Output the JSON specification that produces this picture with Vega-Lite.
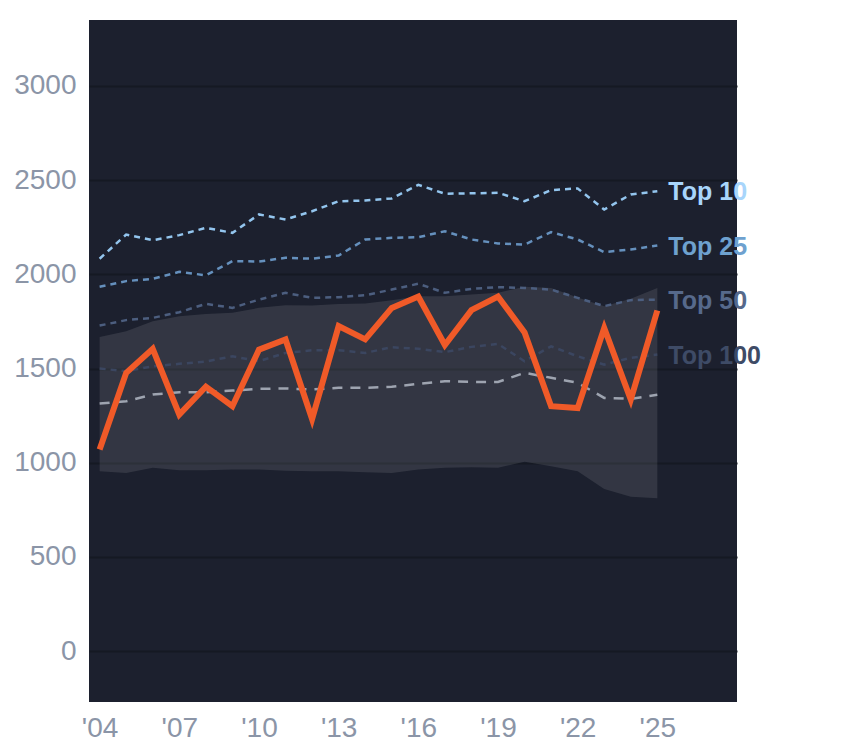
{
  "$schema": "https://vega.github.io/schema/vega-lite/v6.json",
  "width": 648,
  "height": 682,
  "padding": {"left": 5, "top": 20, "right": 0, "bottom": 0},
  "background": "#ffffff",
  "config": {
    "view": {"fill": "#1c202e", "stroke": null},
    "font": "Liberation Sans"
  },
  "datasets": {
    "main": [
      {"year": 2004, "value": 1070}, {"year": 2005, "value": 1477}, {"year": 2006, "value": 1605},
      {"year": 2007, "value": 1256}, {"year": 2008, "value": 1404}, {"year": 2009, "value": 1300},
      {"year": 2010, "value": 1600}, {"year": 2011, "value": 1654}, {"year": 2012, "value": 1232},
      {"year": 2013, "value": 1725}, {"year": 2014, "value": 1655}, {"year": 2015, "value": 1822},
      {"year": 2016, "value": 1882}, {"year": 2017, "value": 1625}, {"year": 2018, "value": 1810},
      {"year": 2019, "value": 1882}, {"year": 2020, "value": 1692}, {"year": 2021, "value": 1300},
      {"year": 2022, "value": 1290}, {"year": 2023, "value": 1715}, {"year": 2024, "value": 1335},
      {"year": 2025, "value": 1808}
    ],
    "median": [
      {"year": 2004, "value": 1314}, {"year": 2005, "value": 1326}, {"year": 2006, "value": 1362},
      {"year": 2007, "value": 1374}, {"year": 2008, "value": 1374}, {"year": 2009, "value": 1383},
      {"year": 2010, "value": 1392}, {"year": 2011, "value": 1394}, {"year": 2012, "value": 1389},
      {"year": 2013, "value": 1398}, {"year": 2014, "value": 1398}, {"year": 2015, "value": 1403},
      {"year": 2016, "value": 1419}, {"year": 2017, "value": 1433}, {"year": 2018, "value": 1429},
      {"year": 2019, "value": 1429}, {"year": 2020, "value": 1477}, {"year": 2021, "value": 1451},
      {"year": 2022, "value": 1424}, {"year": 2023, "value": 1344}, {"year": 2024, "value": 1339},
      {"year": 2025, "value": 1361}
    ],
    "band": [
      {"year": 2004, "lo": 955, "hi": 1668}, {"year": 2005, "lo": 946, "hi": 1698},
      {"year": 2006, "lo": 973, "hi": 1751}, {"year": 2007, "lo": 960, "hi": 1778},
      {"year": 2008, "lo": 960, "hi": 1790}, {"year": 2009, "lo": 964, "hi": 1796},
      {"year": 2010, "lo": 964, "hi": 1822}, {"year": 2011, "lo": 957, "hi": 1836},
      {"year": 2012, "lo": 955, "hi": 1835}, {"year": 2013, "lo": 955, "hi": 1843},
      {"year": 2014, "lo": 949, "hi": 1845}, {"year": 2015, "lo": 946, "hi": 1863},
      {"year": 2016, "lo": 964, "hi": 1884}, {"year": 2017, "lo": 973, "hi": 1884},
      {"year": 2018, "lo": 976, "hi": 1893}, {"year": 2019, "lo": 973, "hi": 1902},
      {"year": 2020, "lo": 1005, "hi": 1934}, {"year": 2021, "lo": 981, "hi": 1928},
      {"year": 2022, "lo": 955, "hi": 1877}, {"year": 2023, "lo": 860, "hi": 1831},
      {"year": 2024, "lo": 820, "hi": 1870}, {"year": 2025, "lo": 811, "hi": 1927}
    ],
    "tiers": [
      {"year": 2004, "tier": "Top 10", "value": 2083}, {"year": 2005, "tier": "Top 10", "value": 2211},
      {"year": 2006, "tier": "Top 10", "value": 2181}, {"year": 2007, "tier": "Top 10", "value": 2208},
      {"year": 2008, "tier": "Top 10", "value": 2247}, {"year": 2009, "tier": "Top 10", "value": 2220},
      {"year": 2010, "tier": "Top 10", "value": 2318}, {"year": 2011, "tier": "Top 10", "value": 2291},
      {"year": 2012, "tier": "Top 10", "value": 2335}, {"year": 2013, "tier": "Top 10", "value": 2388},
      {"year": 2014, "tier": "Top 10", "value": 2392}, {"year": 2015, "tier": "Top 10", "value": 2403},
      {"year": 2016, "tier": "Top 10", "value": 2475}, {"year": 2017, "tier": "Top 10", "value": 2428},
      {"year": 2018, "tier": "Top 10", "value": 2430}, {"year": 2019, "tier": "Top 10", "value": 2433},
      {"year": 2020, "tier": "Top 10", "value": 2388}, {"year": 2021, "tier": "Top 10", "value": 2447},
      {"year": 2022, "tier": "Top 10", "value": 2456}, {"year": 2023, "tier": "Top 10", "value": 2344},
      {"year": 2024, "tier": "Top 10", "value": 2424}, {"year": 2025, "tier": "Top 10", "value": 2441},
      {"year": 2004, "tier": "Top 25", "value": 1934}, {"year": 2005, "tier": "Top 25", "value": 1964},
      {"year": 2006, "tier": "Top 25", "value": 1976}, {"year": 2007, "tier": "Top 25", "value": 2013},
      {"year": 2008, "tier": "Top 25", "value": 1995}, {"year": 2009, "tier": "Top 25", "value": 2070},
      {"year": 2010, "tier": "Top 25", "value": 2068}, {"year": 2011, "tier": "Top 25", "value": 2088},
      {"year": 2012, "tier": "Top 25", "value": 2083}, {"year": 2013, "tier": "Top 25", "value": 2100},
      {"year": 2014, "tier": "Top 25", "value": 2185}, {"year": 2015, "tier": "Top 25", "value": 2194},
      {"year": 2016, "tier": "Top 25", "value": 2197}, {"year": 2017, "tier": "Top 25", "value": 2229},
      {"year": 2018, "tier": "Top 25", "value": 2185}, {"year": 2019, "tier": "Top 25", "value": 2164},
      {"year": 2020, "tier": "Top 25", "value": 2158}, {"year": 2021, "tier": "Top 25", "value": 2224},
      {"year": 2022, "tier": "Top 25", "value": 2185}, {"year": 2023, "tier": "Top 25", "value": 2118},
      {"year": 2024, "tier": "Top 25", "value": 2132}, {"year": 2025, "tier": "Top 25", "value": 2153},
      {"year": 2004, "tier": "Top 50", "value": 1728}, {"year": 2005, "tier": "Top 50", "value": 1757},
      {"year": 2006, "tier": "Top 50", "value": 1769}, {"year": 2007, "tier": "Top 50", "value": 1799},
      {"year": 2008, "tier": "Top 50", "value": 1843}, {"year": 2009, "tier": "Top 50", "value": 1822},
      {"year": 2010, "tier": "Top 50", "value": 1866}, {"year": 2011, "tier": "Top 50", "value": 1902},
      {"year": 2012, "tier": "Top 50", "value": 1875}, {"year": 2013, "tier": "Top 50", "value": 1879},
      {"year": 2014, "tier": "Top 50", "value": 1889}, {"year": 2015, "tier": "Top 50", "value": 1919},
      {"year": 2016, "tier": "Top 50", "value": 1950}, {"year": 2017, "tier": "Top 50", "value": 1902},
      {"year": 2018, "tier": "Top 50", "value": 1923}, {"year": 2019, "tier": "Top 50", "value": 1932},
      {"year": 2020, "tier": "Top 50", "value": 1928}, {"year": 2021, "tier": "Top 50", "value": 1919},
      {"year": 2022, "tier": "Top 50", "value": 1875}, {"year": 2023, "tier": "Top 50", "value": 1831},
      {"year": 2024, "tier": "Top 50", "value": 1863}, {"year": 2025, "tier": "Top 50", "value": 1866},
      {"year": 2004, "tier": "Top 100", "value": 1500}, {"year": 2005, "tier": "Top 100", "value": 1486},
      {"year": 2006, "tier": "Top 100", "value": 1512}, {"year": 2007, "tier": "Top 100", "value": 1525},
      {"year": 2008, "tier": "Top 100", "value": 1537}, {"year": 2009, "tier": "Top 100", "value": 1565},
      {"year": 2010, "tier": "Top 100", "value": 1539}, {"year": 2011, "tier": "Top 100", "value": 1583},
      {"year": 2012, "tier": "Top 100", "value": 1597}, {"year": 2013, "tier": "Top 100", "value": 1597},
      {"year": 2014, "tier": "Top 100", "value": 1583}, {"year": 2015, "tier": "Top 100", "value": 1613},
      {"year": 2016, "tier": "Top 100", "value": 1605}, {"year": 2017, "tier": "Top 100", "value": 1587},
      {"year": 2018, "tier": "Top 100", "value": 1615}, {"year": 2019, "tier": "Top 100", "value": 1631},
      {"year": 2020, "tier": "Top 100", "value": 1539}, {"year": 2021, "tier": "Top 100", "value": 1618},
      {"year": 2022, "tier": "Top 100", "value": 1565}, {"year": 2023, "tier": "Top 100", "value": 1521},
      {"year": 2024, "tier": "Top 100", "value": 1557}, {"year": 2025, "tier": "Top 100", "value": 1574}
    ]
  },
  "encoding": {
    "x": {
      "field": "year", "type": "quantitative",
      "scale": {"domain": [2003.6, 2028], "nice": false, "zero": false},
      "axis": {
        "title": null, "grid": false, "domain": false, "ticks": false,
        "values": [2004, 2007, 2010, 2013, 2016, 2019, 2022, 2025],
        "labelExpr": "\"'\" + slice(toString(datum.value), 2)",
        "labelFontSize": 28, "labelColor": "#8b95a7", "labelPadding": 12,
        "labelFont": "Liberation Sans"
      }
    }
  },
  "layer": [
    {
      "data": {"name": "band"},
      "mark": {"type": "area", "fill": "#ffffff", "fillOpacity": 0.1},
      "encoding": {
        "y": {
          "field": "hi", "type": "quantitative",
          "scale": {"domain": [-270, 3350], "nice": false, "zero": false},
          "axis": {
            "title": null, "domain": false, "ticks": false, "grid": true,
            "values": [0, 500, 1000, 1500, 2000, 2500, 3000],
            "format": "d",
            "gridColor": "#151923", "gridWidth": 2, "gridOpacity": 1,
            "labelFontSize": 28, "labelColor": "#8b95a7", "labelPadding": 13,
            "labelFont": "Liberation Sans", "minExtent": 84, "maxExtent": 84
          }
        },
        "y2": {"field": "lo"}
      }
    },
    {
      "data": {"name": "tiers"},
      "mark": {"type": "line", "strokeWidth": 2.5, "strokeDash": [6, 5]},
      "encoding": {
        "y": {"field": "value", "type": "quantitative"},
        "color": {
          "field": "tier", "type": "nominal", "legend": null,
          "scale": {"domain": ["Top 10", "Top 25", "Top 50", "Top 100"],
                    "range": ["#93c5ee", "#6590bd", "#4c5e7f", "#3b4660"]}
        }
      }
    },
    {
      "data": {"name": "median"},
      "mark": {"type": "line", "strokeWidth": 2.5, "strokeDash": [10, 8], "color": "#9ea4b0"},
      "encoding": {"y": {"field": "value", "type": "quantitative"}}
    },
    {
      "data": {"name": "main"},
      "mark": {"type": "line", "strokeWidth": 6, "color": "#f05a28", "strokeJoin": "miter"},
      "encoding": {"y": {"field": "value", "type": "quantitative"}}
    },
    {
      "data": {"name": "tiers"},
      "transform": [{"filter": "datum.year == 2025"}],
      "mark": {"type": "text", "align": "left", "baseline": "middle", "dx": 11, "dy": 1,
               "fontSize": 25, "fontWeight": "bold", "font": "Liberation Sans"},
      "encoding": {
        "y": {"field": "value", "type": "quantitative"},
        "text": {"field": "tier"},
        "color": {
          "field": "tier", "type": "nominal", "legend": null,
          "scale": {"domain": ["Top 10", "Top 25", "Top 50", "Top 100"],
                    "range": ["#a8d5fb", "#6ea1cf", "#56698b", "#3e4b66"]}
        }
      }
    }
  ],
  "resolve": {"scale": {"color": "independent"}}
}
